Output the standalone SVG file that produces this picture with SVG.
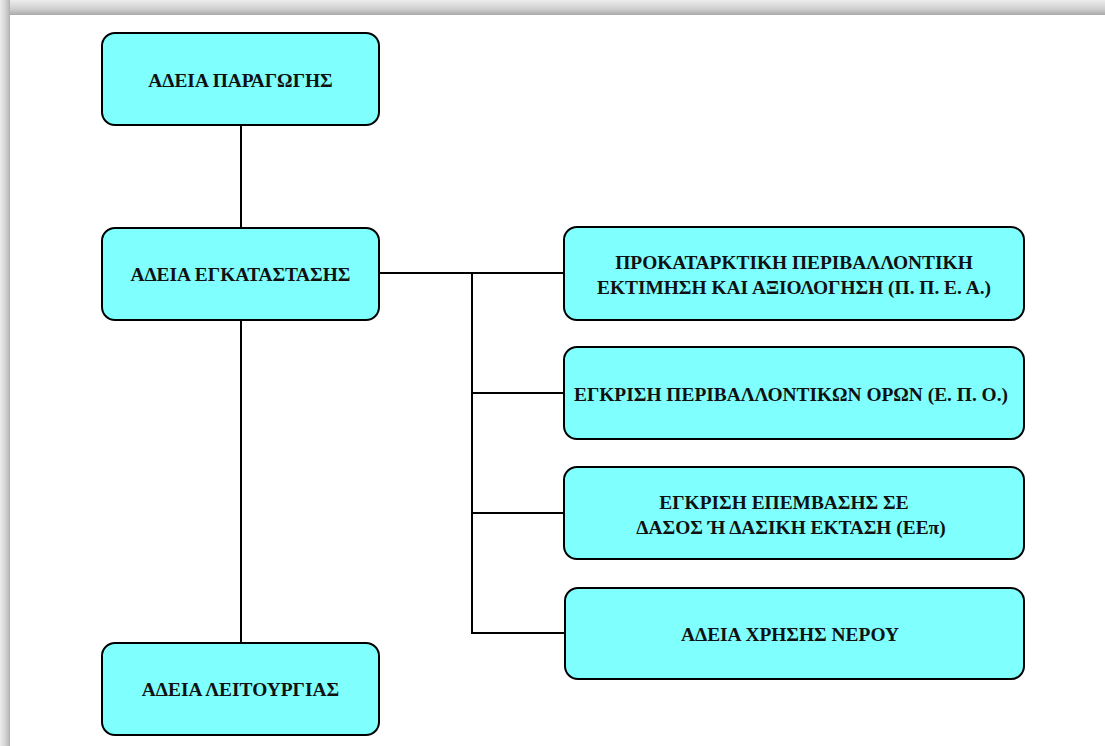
<svg xmlns="http://www.w3.org/2000/svg" width="1105" height="746" viewBox="0 0 1105 746">
<defs>
<linearGradient id="gt" x1="0" y1="0" x2="0" y2="1"><stop offset="0" stop-color="#ececec"/><stop offset="0.6" stop-color="#cfcfcf"/><stop offset="1" stop-color="#a9a9a9"/></linearGradient>
<linearGradient id="gl" x1="0" y1="0" x2="1" y2="0"><stop offset="0" stop-color="#ececec"/><stop offset="0.6" stop-color="#d0d0d0"/><stop offset="1" stop-color="#b0b0b0"/></linearGradient>
<style>
.box{fill:#80ffff;stroke:#000;stroke-width:2}
.t{font-family:'Liberation Serif','Times New Roman',serif;font-weight:700;font-size:19.4px;fill:#111;text-anchor:middle}
.c{stroke:#000;stroke-width:2;fill:none}
</style>
</defs>
<rect x="0" y="0" width="1105" height="746" fill="#fff"/>
<rect x="0" y="0" width="1105" height="15" fill="url(#gt)"/>
<rect x="0" y="0" width="10" height="746" fill="url(#gl)"/>
<g id="connectors">
<path class="c" d="M241 125V228M241 320V643M379 273H564M472 273V633H565M472 393H564M472 513H564"/>
</g>
<g id="n1"><rect class="box" x="102" y="33" width="277" height="92" rx="13"/><text class="t" x="240.5" y="87">ΑΔΕΙΑ ΠΑΡΑΓΩΓΗΣ</text></g>
<g id="n2"><rect class="box" x="102" y="228" width="277" height="92" rx="13"/><text class="t" x="240.5" y="281">ΑΔΕΙΑ ΕΓΚΑΤΑΣΤΑΣΗΣ</text></g>
<g id="n3"><rect class="box" x="102" y="643" width="277" height="92" rx="13"/><text class="t" x="240.5" y="696">ΑΔΕΙΑ ΛΕΙΤΟΥΡΓΙΑΣ</text></g>
<g id="n4"><rect class="box" x="564" y="227" width="460" height="93" rx="13"/><text class="t" x="794" y="269">ΠΡΟΚΑΤΑΡΚΤΙΚΗ ΠΕΡΙΒΑΛΛΟΝΤΙΚΗ</text><text class="t" x="794" y="294">ΕΚΤΙΜΗΣΗ ΚΑΙ ΑΞΙΟΛΟΓΗΣΗ (Π. Π. Ε. Α.)</text></g>
<g id="n5"><rect class="box" x="564" y="347" width="460" height="92" rx="13"/><text class="t" x="791" y="401">ΕΓΚΡΙΣΗ ΠΕΡΙΒΑΛΛΟΝΤΙΚΩΝ ΟΡΩΝ (Ε. Π. Ο.)</text></g>
<g id="n6"><rect class="box" x="564" y="467" width="460" height="92" rx="13"/><text class="t" x="784" y="509">ΕΓΚΡΙΣΗ ΕΠΕΜΒΑΣΗΣ ΣΕ</text><text class="t" x="791" y="534">ΔΑΣΟΣ Ή ΔΑΣΙΚΗ ΕΚΤΑΣΗ (ΕΕπ)</text></g>
<g id="n7"><rect class="box" x="565" y="588" width="459" height="91" rx="13"/><text class="t" x="790" y="641">ΑΔΕΙΑ ΧΡΗΣΗΣ ΝΕΡΟΥ</text></g>
</svg>
